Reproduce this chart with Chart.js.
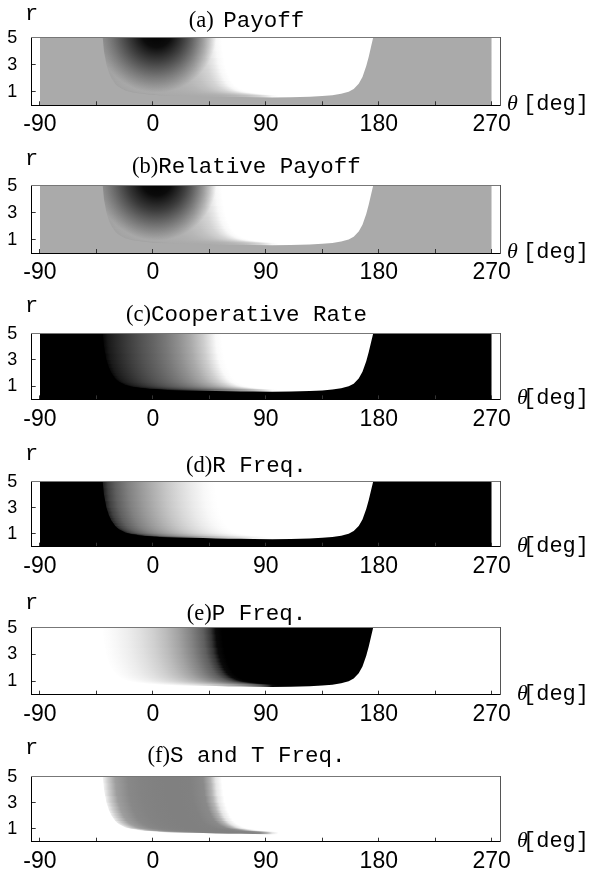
<!DOCTYPE html>
<html>
<head>
<meta charset="utf-8">
<script src="https://cdn.jsdelivr.net/npm/chart.js@4.4.1/dist/chart.umd.min.js"></script>
<style>
  html, body { margin: 0; padding: 0; background: #fff; }
  #page { position: relative; width: 591px; height: 874px; overflow: hidden; background: #fff; }
  #page canvas { position: absolute; left: 0; }
  #labels { position: absolute; left: 0; top: 0; }
</style>
</head>
<body>
<div id="page"><svg id="labels" width="591" height="874" xmlns="http://www.w3.org/2000/svg"></svg></div>
<script>
// ---- axes ----
const thetaTicks = [-90, 0, 90, 180, 270];
const thetaMinorTicks = [-45, 45, 135, 225];
const rTicks = [1, 3, 5];

// ---- panels ----
const panelTags  = ['(a)', '(b)', '(c)', '(d)', '(e)', '(f)'];
const panelNames = ['Payoff', 'Relative Payoff', 'Cooperative Rate', 'R Freq.', 'P Freq.', 'S and T Freq.'];

// Edge of the outer region, r as a function of θ: everything below it takes the outer shade.
// Its left flank (θ from -40 to 5) is also the line along which the inner shading bends.
const edgeTheta = [-90, -40, -39.5, -39, -38, -37, -36, -35, -34, -33, -31.5, -30, -28.5, -27, -25, -23.5, -22, -20.5,
                   -19, -17.5, -16, -14.5, -13, -11.5, -10, -8, -6.5, -5, -3, -1, 1, 3, 5,
                   12, 20, 30, 40, 50, 60, 70, 80, 95, 110, 125, 135, 143, 150, 156, 160, 164, 167, 170, 172, 174, 175.5, 270];
const edgeR     = [5, 5, 4.5, 4, 3.5, 3, 2.7, 2.4, 2.2, 2.0, 1.8, 1.6, 1.45, 1.35, 1.25, 1.17, 1.1, 1.06,
                   1.02, 0.98, 0.95, 0.93, 0.91, 0.89, 0.87, 0.85, 0.83, 0.815, 0.8, 0.785, 0.77, 0.76, 0.75,
                   0.72, 0.7, 0.68, 0.66, 0.64, 0.62, 0.61, 0.6, 0.58, 0.6, 0.63, 0.68, 0.75, 0.85, 1.0, 1.2, 1.6, 2.1, 2.9, 3.6, 4.4, 5, 5];
const flankEnd = 5;   // θ where the left flank meets the floor of the inner region

// Grey level (0 = black, 255 = white) of the inner region along θ at large r
const rampTheta     = [-41, -36, -30, -20, -10, 0, 10, 20, 30, 40, 46, 50, 55];
const payoffRamp    = [160, 165, 168, 170, 171, 173, 176, 182, 193, 212, 232, 248, 255];
const relPayoffRamp = [160, 165, 168, 170, 171, 173, 176, 182, 193, 212, 232, 248, 255];
const coopRamp      = [0, 25, 40, 62, 82, 100, 120, 143, 170, 205, 232, 250, 255];
const rFreqRamp     = [20, 65, 95, 128, 153, 176, 198, 217, 234, 248, 253, 255, 255];
const pFreqRamp     = [255, 252, 247, 237, 224, 208, 188, 163, 132, 95, 55, 10, 0];
const stFreqRamp    = [255, 205, 158, 136, 131, 129, 128, 128, 129, 138, 180, 230, 255];
const outerShade    = [170, 170, 0, 0, 255, 255];

// Dark spot of the two payoff maps: opacity of black against distance (deg) from its centre
const spotTheta = 3, spotR = 5.4;
const spotDist      = [0, 12, 24, 36, 48];
const payoffSpot    = [1, 0.93, 0.62, 0.3, 0];
const relPayoffSpot = [1, 0.94, 0.66, 0.33, 0];

const panelRamps = [payoffRamp, relPayoffRamp, coopRamp, rFreqRamp, pFreqRamp, stFreqRamp];
const panelSpots = [payoffSpot, relPayoffSpot, null, null, null, null];

// ---- page layout (px) ----
const frameTop    = [37.7, 186, 333.3, 481.7, 628, 776.7];
const frameBottom = [105.3, 253.3, 399, 546.7, 695, 841.7];
const titleBase   = [27, 173, 321, 471.7, 620, 761.7];
const rBase       = [20, 165, 311.7, 460, 609.3, 754.3];
const thetaX      = [507, 507, 517, 517, 517, 517];
const CANVAS_H = 148, AXIS_H = 30, PAD_TOP = 37.7, PLOT_LEFT = 31.7, PLOT_RIGHT = 500;
const TICK_IN = 4;
const W = 591;

const grey = (g, a = 1) => `rgba(${g},${g},${g},${a})`;
const ramp0 = rampTheta[0], rampSpan = rampTheta[rampTheta.length - 1] - rampTheta[0];

// bands of the inner region: one per flank point, shading moved right by the flank's offset
const flankStart = edgeTheta[1];
const bands = [];
edgeTheta.forEach((t, i) => {
  if (i >= 1 && t <= flankEnd) bands.push({ top: edgeR[i], shift: t - flankStart });
});
const innerLo = flankStart - 5, innerHi = edgeTheta[edgeTheta.length - 2] + 5;

function rampFill(ramp, shift) {
  return (ctx) => {
    const chart = ctx.chart;
    const xs = chart.scales.x;
    if (!chart.chartArea || !xs) return grey(ramp[0]);
    const x0 = xs.getPixelForValue(ramp0 + shift);
    const x1 = xs.getPixelForValue(ramp0 + rampSpan + shift);
    const g = chart.ctx.createLinearGradient(x0, 0, x1, 0);
    rampTheta.forEach((t, i) => g.addColorStop((t - ramp0) / rampSpan, grey(ramp[i])));
    return g;
  };
}

function spotFill(alphas) {
  return (ctx) => {
    const chart = ctx.chart;
    const { x: xs, y: ys } = chart.scales;
    if (!chart.chartArea || !xs) return 'rgba(0,0,0,0)';
    const cx = xs.getPixelForValue(spotTheta), cy = ys.getPixelForValue(spotR);
    const dMax = spotDist[spotDist.length - 1];
    const rad = xs.getPixelForValue(spotTheta + dMax) - cx;
    const g = chart.ctx.createRadialGradient(cx, cy, 0, cx, cy, rad);
    spotDist.forEach((d, i) => g.addColorStop(d / dMax, `rgba(0,0,0,${alphas[i]})`));
    return g;
  };
}

const span = (r, lo, hi) => [{ x: lo, y: r }, { x: hi, y: r }];
const hidden = { borderColor: 'rgba(0,0,0,0)', borderWidth: 0, pointRadius: 0, tension: 0 };

const tickFontX = { family: "'Liberation Sans', Arial, sans-serif", size: 23 };
const tickFontY = { family: "'Liberation Sans', Arial, sans-serif", size: 18 };

const page = document.getElementById('page');
const svg = document.getElementById('labels');
const NS = 'http://www.w3.org/2000/svg';
const MONO = "'Liberation Mono', 'Courier New', monospace";
const SERIF = "'Liberation Serif', 'Times New Roman', serif";

function addText(x, y, anchor, parts) {
  const t = document.createElementNS(NS, 'text');
  t.setAttribute('x', x); t.setAttribute('y', y); t.setAttribute('text-anchor', anchor);
  t.setAttribute('style', 'white-space:pre'); t.setAttribute('fill', '#000');
  parts.forEach(([str, family, size, italic]) => {
    const s = document.createElementNS(NS, 'tspan');
    s.textContent = str;
    s.setAttribute('font-family', family);
    s.setAttribute('font-size', size);
    if (italic) s.setAttribute('font-style', 'italic');
    t.appendChild(s);
  });
  svg.appendChild(t);
}

const isMajor = (v) => thetaTicks.includes(v);
// frame lines and inward tick marks are drawn above the shaded map
const tickGrid = { display: true, drawOnChartArea: false, drawTicks: true, tickLength: -TICK_IN, color: '#333', lineWidth: 1, z: 1 };
const noGrid = { display: false, drawTicks: false };

panelRamps.forEach((ramp, p) => {
  const top = frameTop[p] - PAD_TOP;
  const canvas = document.createElement('canvas');
  canvas.width = W; canvas.height = CANVAS_H;
  canvas.style.width = W + 'px'; canvas.style.height = CANVAS_H + 'px';
  canvas.style.top = top + 'px';
  page.insertBefore(canvas, svg);

  const datasets = [];
  bands.forEach((b, k) => datasets.push({
    ...hidden, data: span(b.top, innerLo, innerHi), fill: 'start',
    backgroundColor: rampFill(ramp, b.shift), order: 1000 - k
  }));
  if (panelSpots[p]) datasets.push({
    ...hidden, data: span(5, innerLo, innerHi), fill: 'start', backgroundColor: spotFill(panelSpots[p]), order: 50
  });
  datasets.push({
    ...hidden, data: edgeTheta.map((t, i) => ({ x: t, y: edgeR[i] })), fill: 'start',
    backgroundColor: grey(outerShade[p]), order: 0
  });

  const plotBottom = frameBottom[p] - top;
  new Chart(canvas, {
    type: 'line',
    data: { datasets },
    options: {
      responsive: false, animation: false, events: [],
      layout: { padding: { top: PAD_TOP, left: 0, right: W - PLOT_RIGHT, bottom: CANVAS_H - AXIS_H - plotBottom } },
      plugins: { legend: { display: false }, tooltip: { enabled: false }, title: { display: false } },
      scales: {
        x: {
          type: 'linear', position: 'bottom', min: -96.6, max: 276.6,
          afterBuildTicks: (s) => {
            s.ticks = thetaTicks.concat(thetaMinorTicks).sort((a, b) => a - b).map(v => ({ value: v }));
          },
          afterFit: (s) => { s.height = AXIS_H; },
          ticks: { font: tickFontX, color: '#000', padding: 6 + TICK_IN, maxRotation: 0, autoSkip: false, z: 1,
                   callback: (v) => (isMajor(v) ? (v < 0 ? '-' + (-v) : String(v)) : '') },
          grid: tickGrid,
          border: { display: true, color: '#000', width: 1, z: 1 }
        },
        y: {
          type: 'linear', position: 'left', min: 0, max: 5,
          afterBuildTicks: (s) => { s.ticks = rTicks.map(v => ({ value: v })); },
          afterFit: (s) => { s.width = PLOT_LEFT; },
          ticks: { font: tickFontY, color: '#000', padding: 14.5 + TICK_IN, z: 1 },
          grid: tickGrid,
          border: { display: true, color: '#000', width: 1, z: 1 }
        },
        xTop: {
          type: 'linear', position: 'top', min: -96.6, max: 276.6,
          afterFit: (s) => { s.height = 0; },
          ticks: { display: false }, grid: noGrid,
          border: { display: true, color: '#777', width: 1, z: 1 }
        },
        yRight: {
          type: 'linear', position: 'right', min: 0, max: 5,
          afterFit: (s) => { s.width = 0; },
          ticks: { display: false }, grid: noGrid,
          border: { display: true, color: '#555', width: 1, z: 1 }
        }
      }
    }
  });

  addText(246.5, titleBase[p], 'middle', [[panelTags[p], SERIF, 22.5], [p === 0 ? ' ' : '', MONO, 16], [panelNames[p], MONO, 22.5]]);
  addText(25, rBase[p], 'start', [['r', MONO, 22]]);
  addText(thetaX[p], frameBottom[p] + 5, 'start', [['\u03b8', SERIF, 22, true]]);
  addText(589, frameBottom[p] + 5, 'end', [['[deg]', MONO, 22]]);
});
</script>
</body>
</html>
